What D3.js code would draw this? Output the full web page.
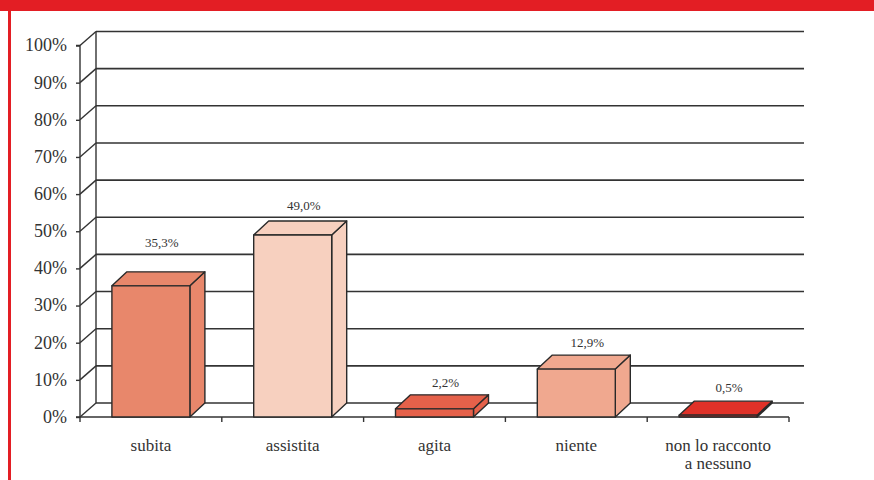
<!DOCTYPE html>
<html><head><meta charset="utf-8">
<script src="https://cdn.jsdelivr.net/npm/d3@7/dist/d3.min.js"></script>
<style>html,body{margin:0;padding:0;background:#fff;}svg{display:block;}</style>
</head><body>
<script>
const categories = ["subita", "assistita", "agita", "niente", "non lo racconto\na nessuno"];
const values = [35.3, 49.0, 2.2, 12.9, 0.5];
const valueLabels = ["35,3%", "49,0%", "2,2%", "12,9%", "0,5%"];
const barColors = ["#E8876B", "#F7D0BF", "#E5614A", "#F0A88F", "#E03128"];
const yTicks = [0, 10, 20, 30, 40, 50, 60, 70, 80, 90, 100];

const W = 874, H = 480;
const svg = d3.select("body").append("svg").attr("width", W).attr("height", H);
const serif = "'Liberation Serif','DejaVu Serif',serif";

// red frame
svg.append("rect").attr("x", 0).attr("y", 0).attr("width", W).attr("height", 11).attr("fill", "#E31E24");
svg.append("rect").attr("x", 8).attr("y", 11).attr("width", 3).attr("height", H - 11).attr("fill", "#E31E24");

const x0 = 80, x1 = 789;
const wallDx = 16, wallDy = -14, wallRight = 804;
const barDx = 15, barDy = -14;
const y = d3.scaleLinear().domain([0, 100]).range([417, 45.5]);
const x = d3.scaleBand().domain(categories).range([x0, x1]).paddingInner(0.45).paddingOuter(0.225);
const band = d3.scaleBand().domain(categories).range([x0, x1]);

const gridCol = "#333";
const g = svg.append("g");

// back wall gridlines + left wall diagonals
yTicks.forEach(t => {
  const yf = y(t);
  g.append("line").attr("x1", x0 + wallDx).attr("x2", wallRight).attr("y1", yf + wallDy).attr("y2", yf + wallDy)
    .attr("stroke", gridCol).attr("stroke-width", 1.6);
  g.append("line").attr("x1", x0).attr("x2", x0 + wallDx).attr("y1", yf).attr("y2", yf + wallDy)
    .attr("stroke", gridCol).attr("stroke-width", 1.4);
});
// back wall left edge
g.append("line").attr("x1", x0 + wallDx).attr("x2", x0 + wallDx).attr("y1", y(0) + wallDy).attr("y2", y(100) + wallDy)
  .attr("stroke", gridCol).attr("stroke-width", 1.4);

// y axis (front)
const yAxis = d3.axisLeft(y).tickValues(yTicks).tickSize(4).tickPadding(9).tickFormat(d => d + "%");
const ya = svg.append("g").attr("transform", `translate(${x0},0)`).call(yAxis);
ya.select(".domain").attr("stroke", gridCol).attr("stroke-width", 1.4).attr("d", `M-4,${y(100)}H0V${y(0)}H-4`);
ya.selectAll(".tick line").attr("stroke", gridCol).attr("stroke-width", 1.4);
ya.selectAll(".tick text").attr("font-family", serif).attr("font-size", 18).attr("fill", "#333").attr("dy", "0.3em");

// x axis (front floor edge)
const xAxis = d3.axisBottom(band).tickSize(0).tickFormat("");
const xa = svg.append("g").attr("transform", `translate(0,${y(0)})`).call(xAxis);
xa.select(".domain").attr("stroke", gridCol).attr("stroke-width", 1.4).attr("d", `M${x0},0H${x1}`);
const bounds = [x0].concat(categories.map(c => band(c) + band.bandwidth()));
xa.selectAll(".sep").data(bounds).enter().append("line")
  .attr("x1", d => d).attr("x2", d => d).attr("y1", 0).attr("y2", 5)
  .attr("stroke", gridCol).attr("stroke-width", 1.4);

// category labels
categories.forEach(c => {
  const lines = c.split("\n");
  lines.forEach((l, i) => svg.append("text")
    .attr("x", band(c) + band.bandwidth() / 2).attr("y", 451 + i * 18)
    .attr("text-anchor", "middle").attr("font-family", serif).attr("font-size", 17).attr("fill", "#333")
    .text(l));
});

// bars
const bars = svg.append("g");
const labelDy = [-39, -25, -22, -22, -23];
categories.forEach((c, i) => {
  const bx = x(c), bw = x.bandwidth(), yt = y(values[i]), yb = y(0);
  const col = barColors[i];
  const st = { stroke: "#2a2a2a", "stroke-width": 1.4, "stroke-linejoin": "round" };
  const top = `M${bx},${yt}L${bx + barDx},${yt + barDy}L${bx + bw + barDx},${yt + barDy}L${bx + bw},${yt}Z`;
  const side = `M${bx + bw},${yt}L${bx + bw + barDx},${yt + barDy}L${bx + bw + barDx},${yb + barDy}L${bx + bw},${yb}Z`;
  [side, top].forEach(d => {
    const p = bars.append("path").attr("d", d).attr("fill", col);
    Object.entries(st).forEach(([k, v]) => p.attr(k, v));
  });
  const f = bars.append("rect").attr("x", bx).attr("y", yt).attr("width", bw).attr("height", yb - yt).attr("fill", col);
  Object.entries(st).forEach(([k, v]) => f.attr(k, v));
  svg.append("text").attr("x", bx + bw / 2 + 11).attr("y", yt + labelDy[i])
    .attr("text-anchor", "middle").attr("font-family", serif).attr("font-size", 13).attr("fill", "#333")
    .text(valueLabels[i]);
});
</script>
</body></html>
